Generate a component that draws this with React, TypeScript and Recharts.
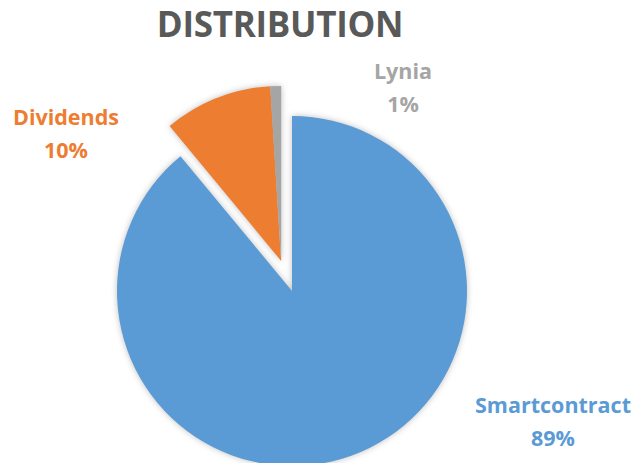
import { PieChart, Pie, Cell } from "recharts"

const categories = ["Smartcontract", "Dividends", "Lynia"]
const shares = [89, 10, 1]
const colors = ["#5B9BD5", "#ED7D31", "#A5A5A5"]
const exploded = [false, true, true]

const data = categories.map((name, i) => ({ name, value: shares[i] }))

const W = 634
const H = 463
const CX = 292
const CY = 291
const R = 175
const EXPLODE = 32

// mid angle (clockwise from 12 o'clock) of the exploded group
const total = shares.reduce((a, b) => a + b, 0)
let acc = 0
let groupStart = -1
let groupEnd = 0
shares.forEach((v, i) => {
  if (exploded[i]) {
    if (groupStart < 0) groupStart = acc
    groupEnd = acc + v
  }
  acc += v
})
const mid = (((groupStart + groupEnd) / 2) / total) * 2 * Math.PI
const dx = Math.sin(mid) * EXPLODE
const dy = -Math.cos(mid) * EXPLODE

const labelPos = [
  { x: 553, y: 388 },
  { x: 66, y: 100 },
  { x: 403, y: 54 },
]

const font = "'Open Sans', sans-serif"

export default function App() {
  return (
    <div style={{ position: "absolute", left: 0, top: 0, width: W, height: H, background: "#fff", fontFamily: font }}>
      <div
        style={{
          position: "absolute",
          left: 0,
          width: 560,
          top: 0,
          textAlign: "center",
          fontSize: 35,
          fontWeight: 700,
          color: "#595959",
          letterSpacing: -0.3,
        }}
      >
        DISTRIBUTION
      </div>
      <div style={{ filter: "drop-shadow(0px 0px 3px rgba(0,0,0,0.25))" }}>
        <PieChart width={W} height={H} margin={{ top: 0, right: 0, bottom: 0, left: 0 }}>
          <Pie
            data={data}
            dataKey="value"
            nameKey="name"
            cx={CX}
            cy={CY}
            outerRadius={R}
            startAngle={90}
            endAngle={-270}
            stroke="none"
            isAnimationActive={false}
          >
            {data.map((d, i) => (
              <Cell key={d.name} fill={exploded[i] ? "transparent" : colors[i]} stroke="none" />
            ))}
          </Pie>
          <Pie
            data={data}
            dataKey="value"
            nameKey="name"
            cx={CX + dx}
            cy={CY + dy}
            outerRadius={R}
            startAngle={90}
            endAngle={-270}
            stroke="none"
            isAnimationActive={false}
          >
            {data.map((d, i) => (
              <Cell key={d.name} fill={exploded[i] ? colors[i] : "transparent"} stroke="none" />
            ))}
          </Pie>
        </PieChart>
      </div>
      {data.map((d, i) => (
        <div
          key={d.name}
          style={{
            position: "absolute",
            left: labelPos[i].x - 100,
            top: labelPos[i].y,
            width: 200,
            textAlign: "center",
            fontSize: 21.5,
            lineHeight: "33px",
            fontWeight: 700,
            color: colors[i],
          }}
        >
          <div>{d.name}</div>
          <div>{Math.round((d.value / total) * 100)}%</div>
        </div>
      ))}
    </div>
  )
}
